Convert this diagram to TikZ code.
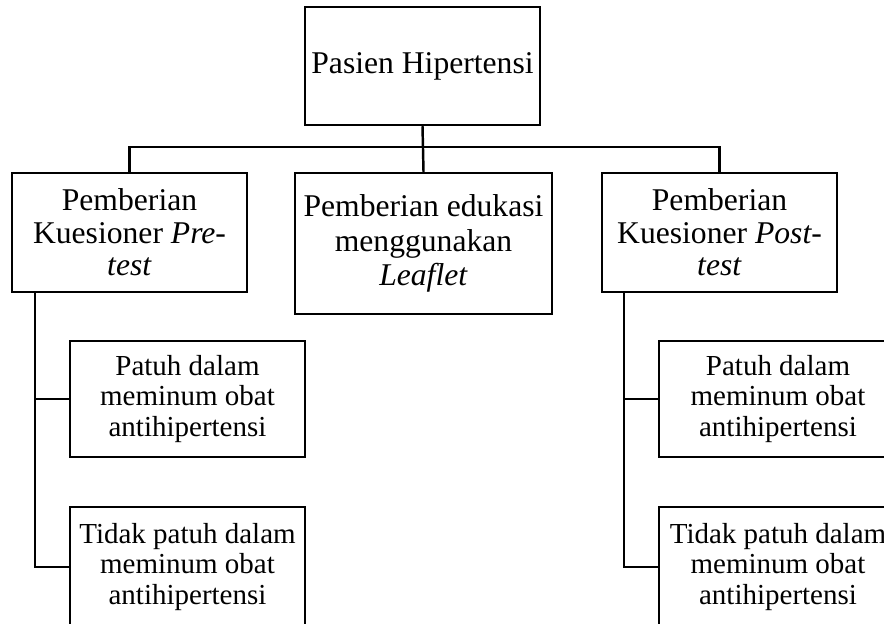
\documentclass[tikz,border=0pt]{standalone}
\usepackage{fontspec}
\setmainfont{Liberation Serif}
\begin{document}
\begin{tikzpicture}[box/.style={draw,line width=1.4pt,align=center,inner sep=0pt,font=\fontsize{18}{18.5}\selectfont},
    sub/.style={box,font=\fontsize{16.5}{17.5}\selectfont},
    link/.style={line width=1.4pt}]
\useasboundingbox (0,0) rectangle (17.68,-12.46);
\clip (0,0) rectangle (17.68,-12.46);
    \node[box,minimum width=4.7cm,minimum height=2.36cm] (top) at (8.45,-1.32) {Pasien Hipertensi};
    \node[box,minimum width=4.7cm,minimum height=2.38cm] (pre) at (2.59,-4.65) {Pemberian\\Kuesioner \textit{Pre-}\\\textit{test}};
    \node[box,minimum width=5.14cm,minimum height=2.82cm,font=\fontsize{18}{19.5}\selectfont] (mid) at (8.47,-4.87) {Pemberian edukasi\\menggunakan\\\textit{Leaflet}};
    \node[box,minimum width=4.7cm,minimum height=2.38cm] (post) at (14.39,-4.65) {Pemberian\\Kuesioner \textit{Post-}\\\textit{test}};
    \node[sub,minimum width=4.7cm,minimum height=2.32cm] (preyes) at (3.75,-7.98) {Patuh dalam\\meminum obat\\antihipertensi};
    \node[sub,minimum width=4.7cm,minimum height=2.4cm] (preno) at (3.75,-11.34) {Tidak patuh dalam\\meminum obat\\antihipertensi};
    \node[sub,minimum width=4.76cm,minimum height=2.32cm] (postyes) at (15.56,-7.98) {Patuh dalam\\meminum obat\\antihipertensi};
    \node[sub,minimum width=4.76cm,minimum height=2.4cm] (postno) at (15.56,-11.34) {Tidak patuh dalam\\meminum obat\\antihipertensi};
    \coordinate (prefoot) at (0.7,-5.84);
    \coordinate (postfoot) at (12.48,-5.84);
    \draw[link] (top.south) -- (mid.north);
    \draw[link] (pre.north) -- ++(0,0.5) -| (post.north);
    \draw[link] (prefoot) |- (preyes.west);
    \draw[link] (prefoot) |- (preno.west);
    \draw[link] (postfoot) |- (postyes.west);
    \draw[link] (postfoot) |- (postno.west);
\end{tikzpicture}
\end{document}
